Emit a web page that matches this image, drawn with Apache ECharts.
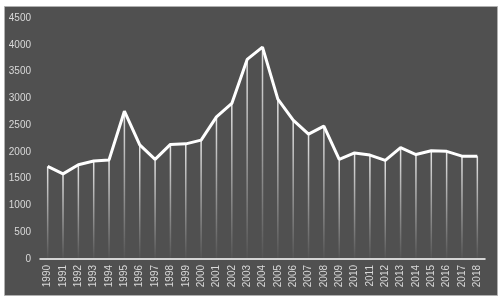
<!DOCTYPE html>
<html><head><meta charset="utf-8">
<script src="https://cdn.jsdelivr.net/npm/echarts@6/dist/echarts.min.js"></script>
<style>html,body{margin:0;padding:0;background:#fff}#c{width:504px;height:302px}</style>
</head><body><div id="c"></div>
<script>
const years = ['1990','1991','1992','1993','1994','1995','1996','1997','1998','1999','2000','2001','2002','2003','2004','2005','2006','2007','2008','2009','2010','2011','2012','2013','2014','2015','2016','2017','2018'];
const values = [1730,1590,1760,1830,1850,2760,2130,1860,2140,2150,2220,2655,2905,3726,3955,2985,2593,2332,2481,1860,1980,1940,1840,2080,1950,2020,2010,1920,1920];
const chart = echarts.init(document.getElementById('c'), null, {renderer:'canvas'});
chart.setOption({
  backgroundColor:'#ffffff',
  animation:false,
  graphic:[{type:'rect', left:4, top:6, shape:{width:493, height:289}, style:{fill:'#505050', stroke:'#b0b0b0', lineWidth:1}, z:-10}],
  grid:{left:40, right:19, top:18, bottom:43},
  xAxis:{type:'category', data:years, boundaryGap:true,
    axisLine:{lineStyle:{color:'#ffffff', width:1.5}}, axisTick:{show:false},
    axisLabel:{rotate:90, color:'#d9d9d9', fontSize:10, fontFamily:'Liberation Sans', margin:6, interval:0}},
  yAxis:{type:'value', min:0, max:4500, interval:500,
    axisLine:{show:false}, axisTick:{show:false}, splitLine:{show:false},
    axisLabel:{color:'#d9d9d9', fontSize:10, fontFamily:'Liberation Sans', margin:9, formatter:function(v){return String(v);}}},
  series:[
    {type:'bar', data:values, barWidth:1.5, z:1,
      itemStyle:{color:new echarts.graphic.LinearGradient(0,0,0,1,[{offset:0,color:'rgba(255,255,255,0.85)'},{offset:1,color:'rgba(255,255,255,0.02)'}])}},
    {type:'line', data:values, symbol:'none', z:5, lineStyle:{color:'#ffffff', width:3}}
  ]
});
</script></body></html>
